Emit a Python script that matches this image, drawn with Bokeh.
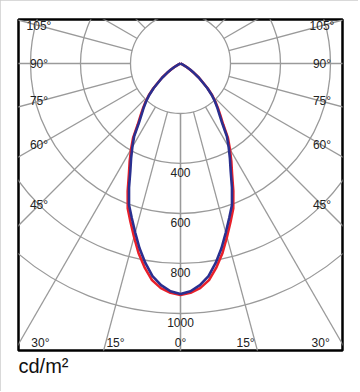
import math
from bokeh.plotting import figure
from bokeh.models import Title
from bokeh.embed import file_html
from bokeh.resources import INLINE
from bokeh.core.properties import value

# ---- data ----
angles = [0, 2.5, 5, 7.5, 10, 12.5, 15, 17.5, 20, 22.5, 25, 27.5, 30, 32.5, 35,
          37.5, 40, 42.5, 45, 47.5, 50, 52.5, 55, 57.5, 60, 65, 70, 75, 80, 85, 90]
blue_values = [922, 912, 890, 858, 810, 757, 700, 648, 602, 538, 475, 428, 385, 345, 290,
               255, 228, 202, 175, 145, 112, 90, 65, 45, 28, 10, 0, 0, 0, 0, 0]
red_values = [926, 918, 902, 874, 828, 776, 718, 665, 617, 552, 488, 440, 395, 353, 298,
              262, 233, 206, 178, 148, 115, 92, 66, 46, 29, 10, 0, 0, 0, 0, 0]
ring_values = [200, 400, 600, 800, 1000]
ring_label_values = [400, 600, 800, 1000]
ray_angles = list(range(0, 181, 15))
side_label_angles = [45, 60, 75, 90, 105]
bottom_label_angles = [0, 15, 30]
unit_text = "cd/m²"

FONT_NAME = "Liberation Sans"
FONT = value(FONT_NAME)
GRID = "#9a9a9a"

p = figure(width=358, height=391, x_range=(-648, 648), y_range=(-1148, 176),
           output_backend="svg", toolbar_location=None,
           min_border_left=18, min_border_right=16, min_border_top=19, min_border_bottom=41,
           styles={"outline": "1.5px solid #cccccc", "outline-offset": "-1.5px"})
p.axis.visible = False
p.grid.visible = False
p.outline_line_color = "black"
p.outline_line_width = 2.5
p.background_fill_color = "white"
p.border_fill_color = "white"

# rings
p.circle(x=[0] * len(ring_values), y=[0] * len(ring_values), radius=ring_values,
         fill_color=None, line_color=GRID, line_width=1.3)

# rays (outside the innermost ring)
x0, y0, x1, y1 = [], [], [], []
r_in = ring_values[0]
r_out = 2000
for a in ray_angles:
    s, c = math.sin(math.radians(a)), math.cos(math.radians(a))
    for side in (-1, 1):
        x0.append(side * r_in * s); y0.append(-r_in * c)
        x1.append(side * r_out * s); y1.append(-r_out * c)
p.segment(x0=x0, y0=y0, x1=x1, y1=y1, line_color=GRID, line_width=1.3)

# curves
def curve(vals):
    xs, ys = [], []
    for a, v in zip(reversed(angles), reversed(vals)):
        xs.append(-v * math.sin(math.radians(a))); ys.append(-v * math.cos(math.radians(a)))
    for a, v in zip(angles[1:], vals[1:]):
        xs.append(v * math.sin(math.radians(a))); ys.append(-v * math.cos(math.radians(a)))
    return xs, ys

rx, ry = curve(red_values)
bx, by = curve(blue_values)
p.line(rx, ry, line_color="#e8202a", line_width=2.6, line_join="round")
p.line(bx, by, line_color="#2a2f8f", line_width=2.6, line_join="round")

# ring labels on the 0 deg ray
p.text(x=[0] * len(ring_label_values), y=[-(v + 36) for v in ring_label_values],
       text=[str(v) for v in ring_label_values], text_font=FONT, text_font_size="12px",
       text_align="center", text_baseline="middle", text_color="#222222")

# side angle labels
lx, ly, lt = [], [], []
xl = 566
for a in side_label_angles:
    t = math.tan(math.radians(a))
    yy = 0 if a == 90 else -xl / t
    for side in (-1, 1):
        lx.append(side * xl); ly.append(yy); lt.append(f"{a}°")
# bottom angle labels
yb = -1116
for a in bottom_label_angles:
    xx = -yb * math.tan(math.radians(a)) * 0.87
    sides = (1,) if a == 0 else (-1, 1)
    for side in sides:
        lx.append(side * xx); ly.append(yb); lt.append(f"{a}°")
p.text(x=lx, y=ly, text=lt, text_font=FONT, text_font_size="12px",
       text_align="center", text_baseline="middle", text_color="#222222")

p.add_layout(Title(text=unit_text, align="left", text_font=FONT_NAME, text_font_size="20px",
                   text_font_style="normal", text_color="#111111", standoff=4), "below")

open("out.html", "w").write(file_html(p, INLINE))
